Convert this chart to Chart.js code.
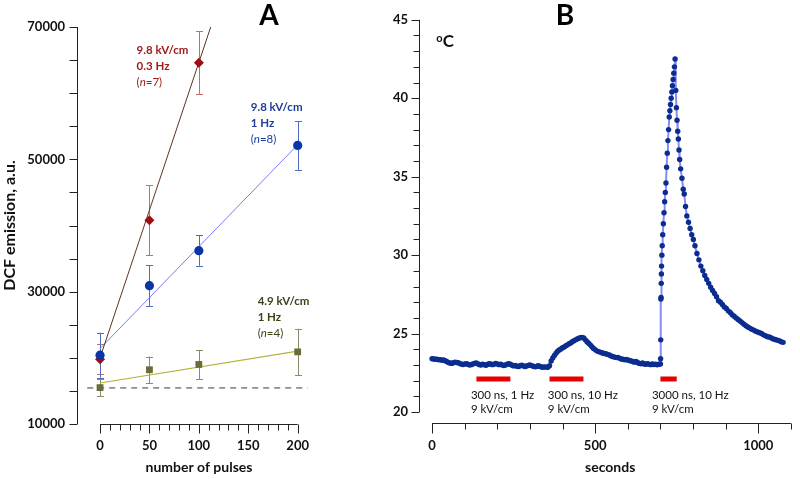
<!DOCTYPE html>
<html>
<head>
<meta charset="utf-8">
<script src="https://cdn.jsdelivr.net/npm/chart.js@4.4.1/dist/chart.umd.min.js"></script>
<style>
  html, body { margin: 0; padding: 0; background: #fff; overflow: hidden; }
  .panel { position: absolute; top: 0; height: 479px; }
  #panelA { left: 0; width: 330px; }
  #panelB { left: 330px; width: 476px; }
</style>
</head>
<body>
<div class="panel" id="panelA"><canvas id="chartA"></canvas></div>
<div class="panel" id="panelB"><canvas id="chartB"></canvas></div>
<script>
// ---- panel A: DCF emission vs number of pulses ----
const pulses = [0, 50, 100, 200];
const dcf03Hz = [19800, 40800, 64600];        // 9.8 kV/cm, 0.3 Hz (n=7)
const dcf03HzErr = [2300, 5300, 4800];
const dcf1Hz = [20400, 30900, 36200, 52100];   // 9.8 kV/cm, 1 Hz (n=8)
const dcf1HzErr = [3400, 3100, 2300, 3700];
const dcfLow = [15500, 18200, 19000, 20900];   // 4.9 kV/cm, 1 Hz (n=4)
const dcfLowErr = [1300, 2000, 2200, 3500];

// regression lines, start/end
const fit03HzX = [0, 112];
const fit03HzY = [20000, 70000];
const fit1HzX = [0, 200];
const fit1HzY = [21400, 52200];
const fitLowX = [0, 200];
const fitLowY = [16200, 21000];
const baselineX = [-13, 210];
const baselineY = [15450, 15450];

const xTicksA = [0, 50, 100, 150, 200];
const yTicksA = [10000, 30000, 50000, 70000];

// ---- panel B: temperature trace ----
const seconds = [
  0, 5, 10, 15, 20, 25, 30, 35, 40, 45, 50, 55, 60, 65, 70, 75, 80, 85, 90, 95,
  100, 105, 110, 115, 120, 125, 130, 135, 140, 145, 150, 155, 160, 165, 170, 175, 180, 185, 190, 195,
  200, 205, 210, 215, 220, 225, 230, 235, 240, 245, 250, 255, 260, 265, 270, 275, 280, 285, 290, 295,
  300, 305, 310, 315, 320, 325, 330, 335, 340, 345, 350, 355, 360, 365, 370, 375, 380, 385, 390, 395,
  400, 405, 410, 415, 420, 425, 430, 435, 440, 445, 450, 455, 460, 465, 470, 475, 480, 485, 490, 495,
  500, 505, 510, 515, 520, 525, 530, 535, 540, 545, 550, 555, 560, 565, 570, 575, 580, 585, 590, 595,
  600, 605, 610, 615, 620, 625, 630, 635, 640, 645, 650, 655, 660, 665, 670, 675, 680, 685, 690, 695,
  700, 700.5, 701, 701.5, 702, 702.5, 703, 703.5, 704.5, 705.5,
  707, 709, 711, 713, 715, 717, 719, 721, 723, 725, 727, 729, 731, 733, 735, 737, 739, 741, 743, 745,
  747, 749, 751, 753, 755, 757, 759, 762, 766, 770, 773, 777, 781, 786, 791, 796, 801, 806,
  812, 818, 824, 830, 836, 842, 848, 854, 860, 866, 872, 878, 884, 890, 896, 902, 908, 914, 920, 926,
  932, 938, 944, 950, 956, 962, 968, 974, 980, 986, 992, 998, 1004, 1010, 1016, 1022, 1028, 1034, 1040, 1046,
  1052, 1058, 1064, 1070, 1076
];
const tempC = [
  23.40, 23.38, 23.36, 23.37, 23.33, 23.34, 23.30, 23.32, 23.27, 23.22, 23.15, 23.12, 23.10, 23.14, 23.18, 23.16, 23.14, 23.10, 23.05, 23.03,
  23.06, 23.08, 23.04, 23.00, 23.02, 23.06, 23.10, 23.12, 23.08, 23.02, 23.00, 23.04, 23.02, 22.98, 23.03, 23.08, 23.06, 23.02, 23.05, 23.10,
  23.06, 23.02, 23.05, 23.00, 22.96, 23.00, 23.05, 23.08, 23.04, 22.98, 22.94, 22.97, 22.92, 22.90, 22.95, 22.99, 22.94, 22.90, 22.93, 22.97,
  23.00, 22.96, 22.92, 22.88, 22.90, 22.95, 22.92, 22.87, 22.85, 22.88, 22.86, 22.85, 22.95, 23.25, 23.45, 23.60, 23.75, 23.88, 23.95, 24.02,
  24.10, 24.15, 24.22, 24.28, 24.35, 24.40, 24.48, 24.55, 24.60, 24.65, 24.70, 24.74, 24.76, 24.72, 24.60, 24.48, 24.38, 24.28, 24.16, 24.05,
  23.98, 23.90, 23.85, 23.82, 23.78, 23.75, 23.72, 23.70, 23.66, 23.62, 23.56, 23.52, 23.50, 23.47, 23.48, 23.42, 23.38, 23.36, 23.33, 23.35,
  23.32, 23.28, 23.25, 23.22, 23.18, 23.22, 23.16, 23.10, 23.08, 23.12, 23.06, 23.04, 23.08, 23.05, 23.02, 23.06, 23.03, 23.05, 23.01, 23.04,
  23.06, 23.40, 24.60, 27.20, 27.30, 28.20, 28.80, 29.30, 30.00, 30.60,
  31.30, 32.00, 32.70, 33.40, 34.00, 34.60, 35.60, 36.50, 37.30, 38.00, 38.80, 39.20, 39.60, 40.00, 40.40, 40.80, 41.20, 41.60, 42.00, 42.50,
  40.50, 39.40, 38.60, 37.90, 37.40, 36.70, 36.10, 35.50, 34.90, 34.20, 33.90, 33.10, 32.50, 32.10, 31.70, 31.30, 31.00, 30.60,
  30.10, 29.70, 29.30, 29.00, 28.70, 28.45, 28.20, 27.95, 27.75, 27.55, 27.35, 27.10, 27.00, 26.85, 26.70, 26.60, 26.45, 26.35, 26.20, 26.10,
  26.00, 25.90, 25.80, 25.70, 25.60, 25.50, 25.42, 25.35, 25.28, 25.22, 25.15, 25.10, 25.05, 25.00, 24.92, 24.86, 24.80, 24.78, 24.72, 24.65,
  24.62, 24.58, 24.55, 24.48, 24.44
];
const pulseStart = [136, 360, 700];
const pulseEnd = [240, 464, 750];
const pulseLevel = 22.1;
const pulseText = [
  ["300 ns, 1 Hz", "9 kV/cm"],
  ["300 ns, 10 Hz", "9 kV/cm"],
  ["3000 ns, 10 Hz", "9 kV/cm"]
];
const xTicksB = [0, 500, 1000];

Chart.defaults.font.family = "Lato, 'Open Sans', sans-serif";
Chart.defaults.color = "#111";
Chart.defaults.animation = false;
Chart.defaults.events = [];

const pts = (xs, ys) => xs.map((x, i) => ({ x: x, y: ys[i] }));

// axes drawn apart from each other, as in the original figure
function offsetAxes(len) {
  return {
    id: "offsetAxes",
    afterDraw(chart) {
      const { ctx, chartArea } = chart;
      const xs = chart.scales.x, ys = chart.scales.y;
      ctx.save();
      ctx.strokeStyle = "#222";
      ctx.lineWidth = 1;
      ctx.beginPath();
      const ax = Math.round(chartArea.left) - 0.5;
      const yt = ys.ticks;
      ctx.moveTo(ax, ys.getPixelForValue(yt[0].value));
      ctx.lineTo(ax, ys.getPixelForValue(yt[yt.length - 1].value));
      yt.forEach(t => {
        const py = Math.round(ys.getPixelForValue(t.value)) + 0.5;
        ctx.moveTo(ax, py);
        ctx.lineTo(ax - (t.label !== "" ? len.yMajor : len.yMinor), py);
      });
      const ay = Math.round(chartArea.bottom) + 0.5;
      const xt = xs.ticks;
      ctx.moveTo(xs.getPixelForValue(xt[0].value), ay);
      ctx.lineTo(xs.getPixelForValue(xt[xt.length - 1].value), ay);
      xt.forEach(t => {
        const px = Math.round(xs.getPixelForValue(t.value)) + 0.5;
        ctx.moveTo(px, ay);
        ctx.lineTo(px, ay + (t.label !== "" ? len.xMajor : len.xMinor));
      });
      ctx.stroke();
      ctx.restore();
    }
  };
}

function errorBars(sets) {
  return {
    id: "errorBars",
    beforeDatasetsDraw(chart) {
      const { ctx } = chart;
      const xs = chart.scales.x, ys = chart.scales.y;
      ctx.save();
      ctx.lineWidth = 1;
      sets.forEach(s => {
        ctx.strokeStyle = s.color;
        ctx.beginPath();
        s.y.forEach((v, i) => {
          const px = Math.round(xs.getPixelForValue(s.x[i])) + 0.5;
          const top = ys.getPixelForValue(v + s.err[i]);
          const bot = ys.getPixelForValue(v - s.err[i]);
          ctx.moveTo(px, top); ctx.lineTo(px, bot);
          ctx.moveTo(px - 3.5, Math.round(top) + 0.5); ctx.lineTo(px + 3.5, Math.round(top) + 0.5);
          ctx.moveTo(px - 3.5, Math.round(bot) + 0.5); ctx.lineTo(px + 3.5, Math.round(bot) + 0.5);
        });
        ctx.stroke();
      });
      ctx.restore();
    }
  };
}

// text placed at data coordinates; each line is a list of [text, font, dy]
function notes(items, letter) {
  return {
    id: "notes",
    afterDatasetsDraw(chart) {
      const { ctx } = chart;
      const xs = chart.scales.x, ys = chart.scales.y;
      ctx.save();
      ctx.textBaseline = "alphabetic";
      ctx.textAlign = "left";
      items.forEach(n => {
        const px = xs.getPixelForValue(n.x), py = ys.getPixelForValue(n.y);
        ctx.fillStyle = n.color;
        n.lines.forEach((line, i) => {
          let cx = px;
          line.forEach(([text, font, dy]) => {
            ctx.font = font;
            ctx.fillText(text, cx, py + i * n.lh + (dy || 0));
            cx += ctx.measureText(text).width;
          });
        });
      });
      ctx.font = "bold 28px Lato";
      ctx.fillStyle = "#000";
      ctx.textAlign = "center";
      ctx.fillText(letter.text, letter.x, letter.y);
      ctx.restore();
    }
  };
}

const B11 = "bold 11.5px Lato", N11 = "11.5px Lato", I11 = "italic 11.5px Lato";
const nLine = n => [["(", N11], ["n", I11], ["=" + n + ")", N11]];

const notesA = [
  { x: 37, y: 65900, lh: 16, color: "#a11b1b", lines: [[["9.8 kV/cm", B11]], [["0.3 Hz", B11]], nLine(7)] },
  { x: 152.5, y: 57300, lh: 16, color: "#1f3d99", lines: [[["9.8 kV/cm", B11]], [["1 Hz", B11]], nLine(8)] },
  { x: 159.5, y: 28050, lh: 16, color: "#3f3f1a", lines: [[["4.9 kV/cm", B11]], [["1 Hz", B11]], nLine(4)] }
];

new Chart(document.getElementById("chartA"), {
  type: "scatter",
  data: {
    datasets: [
      { data: pts(pulses, dcf1Hz), pointStyle: "circle", pointRadius: 4.6, backgroundColor: "#0a35a6", borderWidth: 0 },
      { data: pts(pulses, dcf03Hz), pointStyle: "rectRot", pointRadius: 5, backgroundColor: "#9e0d12", borderWidth: 0 },
      { data: pts(pulses, dcfLow), pointStyle: "rect", pointRadius: 4.8, backgroundColor: "#6a6a3c", borderWidth: 0 },
      { data: pts(fit03HzX, fit03HzY), showLine: true, borderColor: "#5e3322", borderWidth: 1, pointRadius: 0 },
      { data: pts(fit1HzX, fit1HzY), showLine: true, borderColor: "#7b7bef", borderWidth: 1, pointRadius: 0 },
      { data: pts(fitLowX, fitLowY), showLine: true, borderColor: "#b5b33c", borderWidth: 1.2, pointRadius: 0 },
      { data: pts(baselineX, baselineY), showLine: true, borderColor: "#3a3a3a", borderWidth: 1, borderDash: [6, 5], pointRadius: 0 }
    ]
  },
  options: {
    responsive: true,
    maintainAspectRatio: false,
    layout: { padding: { top: 27, right: 10, left: 0, bottom: 0 } },
    plugins: { legend: { display: false }, tooltip: { enabled: false } },
    scales: {
      x: {
        type: "linear", min: -22.3, max: 222.6,
        border: { display: false },
        grid: { display: false, drawTicks: false },
        afterBuildTicks: s => { s.ticks = s.ticks.filter(t => t.value >= 0 && t.value <= 200); },
        afterFit: s => { s.height = 55; },
        ticks: { stepSize: 10, autoSkip: false, maxRotation: 0, padding: 14, includeBounds: false,
                 font: { size: 13, weight: "bold" },
                 callback: v => xTicksA.includes(v) ? v : "" },
        title: { display: true, text: "number of pulses", font: { size: 14, weight: "bold" }, padding: { top: 0, bottom: 3 } }
      },
      y: {
        min: 10000, max: 70000,
        border: { display: false },
        grid: { display: false, drawTicks: false },
        afterFit: s => { s.width = 78; },
        ticks: { stepSize: 5000, autoSkip: false, padding: 13, includeBounds: false,
                 font: { size: 13, weight: "bold" },
                 callback: v => yTicksA.includes(v) ? v : "" },
        title: { display: true, text: "DCF emission, a.u.", font: { size: 16, weight: "bold" }, padding: { top: 0, bottom: 0 } }
      }
    }
  },
  plugins: [
    offsetAxes({ yMajor: 8, yMinor: 8, xMajor: 9, xMinor: 6 }),
    errorBars([
      { x: pulses, y: dcfLow, err: dcfLowErr, color: "#8b8b70" },
      { x: pulses, y: dcf03Hz, err: dcf03HzErr, color: "#cf6a6a" },
      { x: pulses, y: dcf1Hz, err: dcf1HzErr, color: "#4d6cc0" }
    ]),
    notes(notesA, { text: "A", x: 269, y: 25 })
  ]
});

// ---- panel B ----
const N10 = "11.5px Lato";
const notesB = [
  { x: 13, y: 43.26, lh: 0, color: "#111", lines: [[["o", "bold 11px Lato", -5.5], ["C", "bold 17px Lato"]]] }
].concat(pulseText.map((t, i) => ({
  x: [119, 355, 674][i], y: 20.8, lh: 14, color: "#111", lines: t.map(s => [[s, N10]])
})));

const pulseSets = pulseStart.map((s, i) => ({
  data: pts([s, pulseEnd[i]], [pulseLevel, pulseLevel]),
  showLine: true, borderColor: "#e60000", borderWidth: 5, borderCapStyle: "butt", pointRadius: 0
}));

new Chart(document.getElementById("chartB"), {
  type: "scatter",
  data: {
    datasets: [
      { data: pts(seconds, tempC), showLine: true, borderColor: "#8a8af0", borderWidth: 2,
        pointRadius: 2.7, backgroundColor: "#0b2d8f", pointBorderWidth: 0 }
    ].concat(pulseSets)
  },
  options: {
    responsive: true,
    maintainAspectRatio: false,
    layout: { padding: { top: 16, right: 0, left: 0, bottom: 0 } },
    plugins: { legend: { display: false }, tooltip: { enabled: false } },
    scales: {
      x: {
        type: "linear", min: -37, max: 1129,
        border: { display: false },
        grid: { display: false, drawTicks: false },
        afterBuildTicks: s => { s.ticks = s.ticks.filter(t => t.value >= 0 && t.value <= 1100); },
        afterFit: s => { s.height = 56; },
        ticks: { stepSize: 100, autoSkip: false, maxRotation: 0, padding: 15, includeBounds: false,
                 font: { size: 13, weight: "bold" },
                 callback: v => xTicksB.includes(v) ? v : "" },
        title: { display: true, text: "seconds", font: { size: 14, weight: "bold" }, padding: { top: 0, bottom: 3 } }
      },
      y: {
        min: 19.3, max: 45,
        border: { display: false },
        grid: { display: false, drawTicks: false },
        afterFit: s => { s.width = 90; },
        ticks: { stepSize: 1, autoSkip: false, padding: 12, includeBounds: false,
                 font: { size: 13, weight: "bold" },
                 callback: v => v % 5 === 0 ? v : "" }
      }
    }
  },
  plugins: [
    offsetAxes({ yMajor: 8, yMinor: 6, xMajor: 10, xMinor: 6 }),
    notes(notesB, { text: "B", x: 235, y: 25 })
  ]
});
</script>
</body>
</html>
